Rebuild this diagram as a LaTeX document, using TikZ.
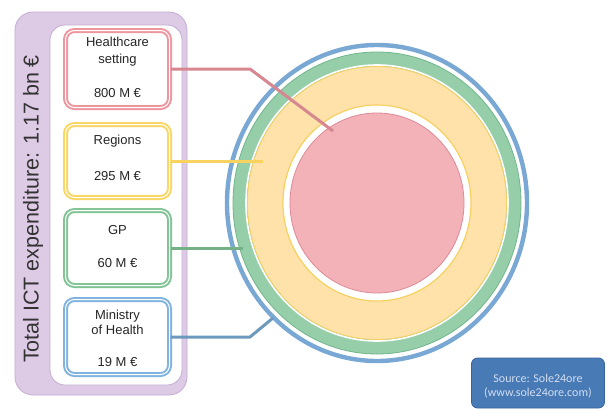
\documentclass[tikz,border=0pt]{standalone}
\usepackage{fontspec}
\setmainfont{Liberation Sans}
\newfontfamily\srcfont{Carlito}
\usepackage{tikz}

\definecolor{framepurple}{RGB}{221,202,229}
\definecolor{framedraw}{RGB}{196,172,212}
\definecolor{hcpink}{RGB}{238,150,160}
\definecolor{rgyellow}{RGB}{250,214,100}
\definecolor{gpgreen}{RGB}{130,196,150}
\definecolor{mhblue}{RGB}{128,180,222}
\definecolor{ringblue}{RGB}{122,168,212}
\definecolor{ringgreen}{RGB}{150,206,170}
\definecolor{ringgreendraw}{RGB}{112,182,138}
\definecolor{ringyellow}{RGB}{254,226,170}
\definecolor{ringyellowdraw}{RGB}{248,208,96}
\definecolor{corepink}{RGB}{242,178,184}
\definecolor{corepinkdraw}{RGB}{222,138,150}
\definecolor{srcfill}{RGB}{72,122,182}
\definecolor{srcdraw}{RGB}{58,100,158}
\definecolor{srctext}{RGB}{210,222,242}

\tikzset{
  costbox/.style={rounded corners=9pt, line width=2pt, double=white,
    double distance=1pt, fill=white, minimum width=104pt, inner sep=0pt},
  boxtext/.style={font=\fontsize{13}{17}\selectfont, align=center, text=black!85},
  link/.style={line width=3pt, line join=round}
}

\begin{document}
\begin{tikzpicture}[x=1pt, y=-1pt]
            \useasboundingbox (0,0) rectangle (611,408);

            % frame with the total
            \node[draw=framedraw, fill=framepurple, rounded corners=18pt, line width=0.8pt,
              minimum width=172pt, minimum height=383pt] (frame) at (101,203.5) {};
            \node[draw=framedraw, fill=white, rounded corners=15pt, line width=0.8pt,
              minimum width=132pt, minimum height=360pt] (inner) at (116,205) {};
            \node[rotate=90, font=\fontsize{21.5}{26}\selectfont, text=black!80] (total) at (33,209)
              {Total ICT expenditure: 1.17 bn €};

            % rings
            \draw[ringblue, line width=4.4pt, fill=white] (377,203) ellipse [x radius=150pt, y radius=158pt];
            \draw[ringgreendraw, line width=0.8pt, fill=ringgreen] (377,203) ellipse [x radius=144pt, y radius=151pt];
            \draw[white, line width=1.6pt] (377,203) ellipse [x radius=131pt, y radius=138pt];
            \draw[ringyellowdraw, line width=0.8pt, fill=ringyellow] (377,203) ellipse [x radius=129.5pt, y radius=136.5pt];
            \draw[ringyellowdraw, line width=1.2pt, fill=white] (377,203) ellipse [x radius=94pt, y radius=98pt];
            \draw[corepinkdraw, line width=0.8pt, fill=corepink] (377,203) ellipse [x radius=87pt, y radius=90pt];

            % cost boxes
            \node[costbox, draw=hcpink, minimum height=77pt] (hcbox) at (117.5,69) {};
            \node[boxtext] (hcname) at (117.5,52) {Healthcare\\setting};
            \node[boxtext] (hccost) at (117.5,93) {800 M €};

            \node[costbox, draw=rgyellow, minimum height=73pt] (rgbox) at (117.5,161) {};
            \node[boxtext] (rgname) at (117.5,141) {Regions};
            \node[boxtext] (rgcost) at (117.5,176) {295 M €};

            \node[costbox, draw=gpgreen, minimum height=75pt] (gpbox) at (117.5,248) {};
            \node[boxtext] (gpname) at (117.5,230) {GP};
            \node[boxtext] (gpcost) at (117.5,263) {60 M €};

            \node[costbox, draw=mhblue, minimum height=75pt] (mhbox) at (117.5,337) {};
            \node[boxtext, font=\fontsize{13}{15}\selectfont] (mhname) at (117.5,322) {Ministry\\of Health};
            \node[boxtext] (mhcost) at (117.5,362) {19 M €};

            % connectors
            \coordinate (hcbend) at (250,69);
            \coordinate (hcend) at (333,131);
            \coordinate (rgend) at (263,161);
            \coordinate (gpend) at (243,248);
            \coordinate (mhbend) at (250,337);
            \coordinate (mhend) at (273,318);

            \draw[link, hcpink!90!black] (hcbox.east) -- (hcbend) -- (hcend); % healthcare
            \draw[link, rgyellow!95!orange] (rgbox.east) -- (rgend); % regions
            \draw[link, gpgreen!90!black] (gpbox.east) -- (gpend); % gp
            \draw[link, mhblue!85!black] (mhbox.east) -- (mhbend) -- (mhend); % ministry

            % source
            \node[draw=srcdraw, fill=srcfill, rounded corners=6pt, line width=0.8pt,
              minimum width=133pt, minimum height=50pt] (source) at (538,383) {};
            \node[font=\srcfont\fontsize{12}{14.5}\selectfont, text=srctext, align=center] (srclabel)
              at (538,386) {Source: Sole24ore\\(www.sole24ore.com)};
        \end{tikzpicture}
\end{document}
